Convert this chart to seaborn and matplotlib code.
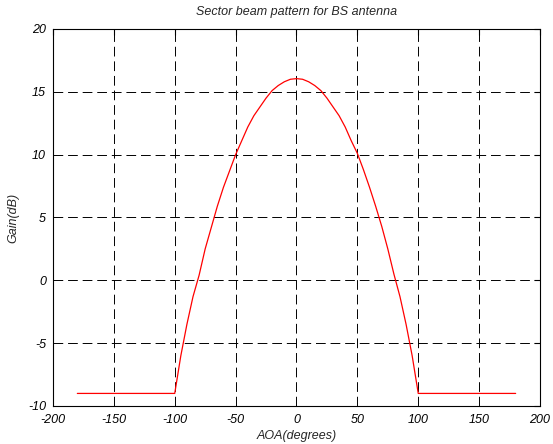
import numpy as np
import pandas as pd
import matplotlib
matplotlib.use("Agg")
import matplotlib.pyplot as plt
import seaborn as sns

# values
aoa = [-180, -100, -95, -90, -85, -80, -75, -70, -65, -60, -55, -50, -45, -40,
       -35, -30, -25, -20, -15, -10, -5, 0, 5, 10, 15, 20, 25, 30, 35, 40,
       45, 50, 55, 60, 65, 70, 75, 80, 85, 90, 95, 100, 180]
gain = [-9.0, -9.0, -6.0, -3.5, -1.3, 0.4, 2.5, 4.2, 5.9, 7.4, 8.7, 10.0, 11.1, 12.2,
        13.1, 13.8, 14.5, 15.1, 15.5, 15.8, 16.0, 16.05, 16.0, 15.8, 15.5, 15.1, 14.5, 13.8, 13.1, 12.2,
        11.1, 10.1, 8.8, 7.4, 5.9, 4.3, 2.5, 0.5, -1.3, -3.5, -6.0, -9.0, -9.0]

x_ticks = [-200, -150, -100, -50, 0, 50, 100, 150, 200]
y_ticks = [-10, -5, 0, 5, 10, 15, 20]

sns.set_style("white")
plt.rcParams['font.family'] = ['Liberation Sans', 'DejaVu Sans']
plt.rcParams['font.style'] = 'italic'
plt.rcParams['axes.unicode_minus'] = False

df = pd.DataFrame({"AOA": aoa, "Gain": gain})

fig = plt.figure(figsize=(5.53, 4.44), dpi=100)
ax = fig.add_axes([0.0958, 0.0856, 0.8807, 0.8491])

sns.lineplot(data=df, x="AOA", y="Gain", color="red", linewidth=0.9, ax=ax)

ax.set_xlim(-200, 200)
ax.set_ylim(-10, 20)
ax.set_xticks(x_ticks)
ax.set_yticks(y_ticks)
ax.tick_params(direction="in", length=4, width=0.8, top=True, right=True,
               labelsize=9, colors="black")
ax.tick_params(axis="x", pad=6)
ax.tick_params(axis="y", pad=5)
for lab in ax.get_xticklabels() + ax.get_yticklabels():
    lab.set_fontstyle("italic")

ax.grid(True, color="black", linestyle=(0, (10, 5)), linewidth=0.7)
for s in ax.spines.values():
    s.set_color("black")
    s.set_linewidth(0.8)

ax.set_title("Sector beam pattern for BS antenna", fontsize=9, fontstyle="italic", pad=10)
ax.set_xlabel("AOA(degrees)", fontsize=9, fontstyle="italic", labelpad=3)
ax.set_ylabel("Gain(dB)", fontsize=9, fontstyle="italic", labelpad=6)

fig.savefig("out.png", dpi=100)
